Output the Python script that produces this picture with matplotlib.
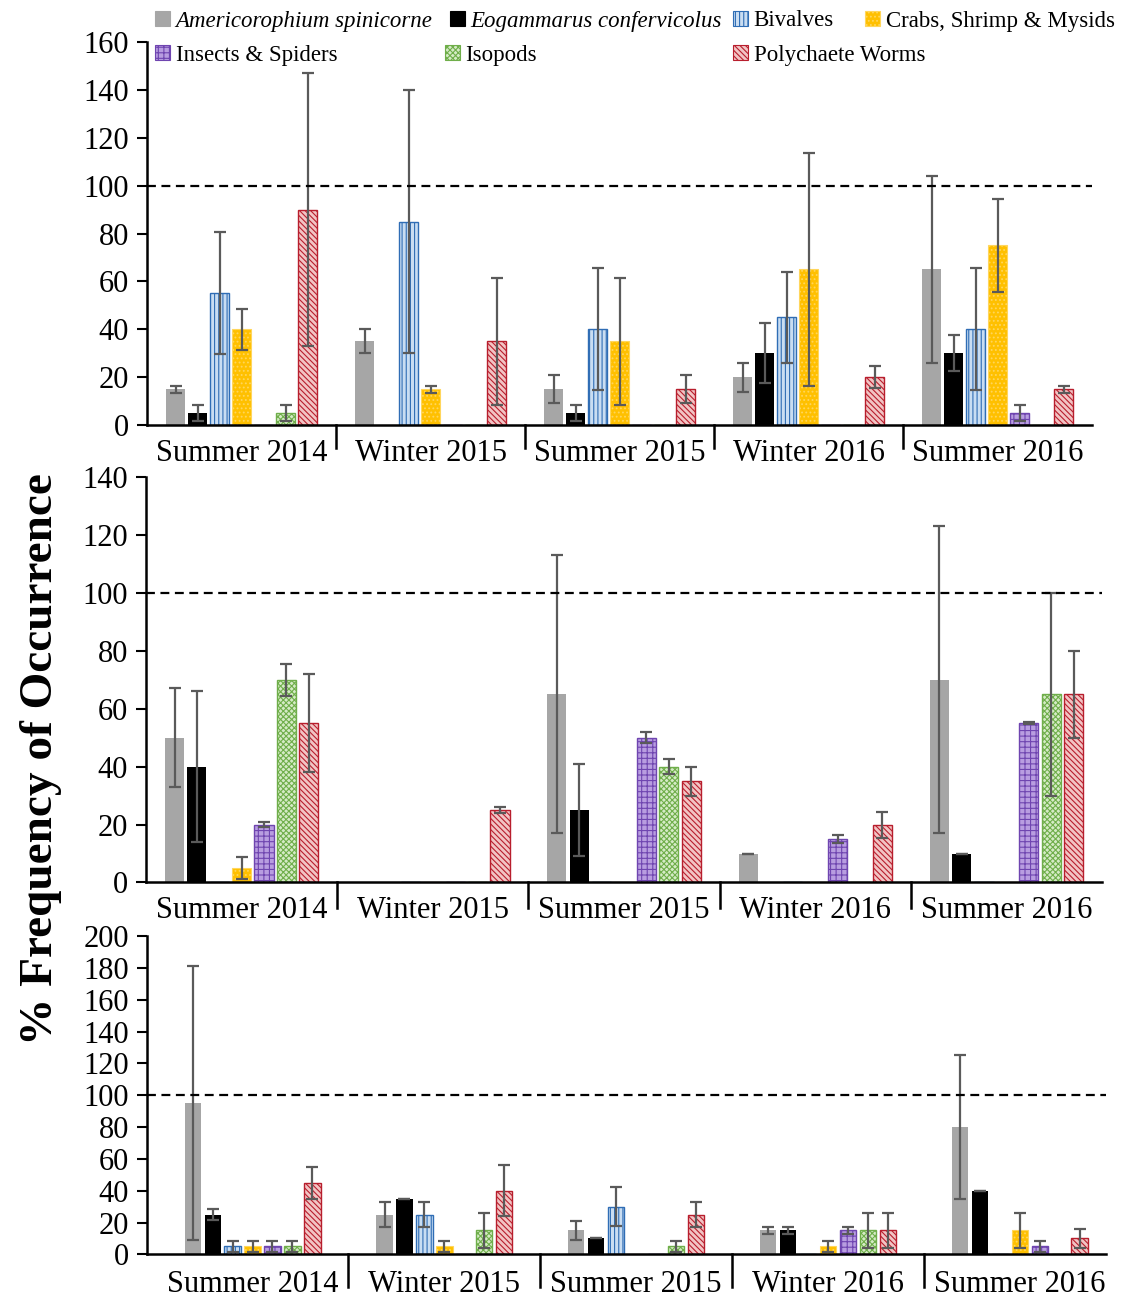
import matplotlib
matplotlib.use('Agg')
import matplotlib.pyplot as plt
import matplotlib.transforms as mtransforms
from matplotlib.patches import Patch
import numpy as np

plt.rcParams['font.family'] = ['Liberation Serif', 'DejaVu Serif']
plt.rcParams['hatch.linewidth'] = 0.8

# ---------------- data ----------------
seasons = ['Summer 2014', 'Winter 2015', 'Summer 2015', 'Winter 2016', 'Summer 2016']
species = ['Americorophium spinicorne', 'Eogammarus confervicolus', 'Bivalves',
           'Crabs, Shrimp & Mysids', 'Insects & Spiders', 'Isopods', 'Polychaete Worms']

# Panel 1 (top)
p1_amer = [15, 35, 15, 20, 65]
p1_eoga = [5, 0, 5, 30, 30]
p1_biva = [55, 85, 40, 45, 40]
p1_crab = [40, 15, 35, 65, 75]
p1_inse = [0, 0, 0, 0, 5]
p1_isop = [5, 0, 0, 0, 0]
p1_poly = [90, 35, 15, 20, 15]
p1_amer_err = [1.5, 5, 6, 6, 39]
p1_eoga_err = [3.5, 0, 3.5, 12.5, 7.5]
p1_biva_err = [25.5, 55, 25.5, 19, 25.5]
p1_crab_err = [8.5, 1.5, 26.5, 48.5, 19.5]
p1_inse_err = [0, 0, 0, 0, 3.3]
p1_isop_err = [3.5, 0, 0, 0, 0]
p1_poly_err = [57, 26.5, 6, 4.5, 1.5]

# Panel 2 (middle)
p2_amer = [50, 0, 65, 10, 70]
p2_eoga = [40, 0, 25, 0, 10]
p2_biva = [0, 0, 0, 0, 0]
p2_crab = [5, 0, 0, 0, 0]
p2_inse = [20, 0, 50, 15, 55]
p2_isop = [70, 0, 40, 0, 65]
p2_poly = [55, 25, 35, 20, 65]
p2_amer_err = [17, 0, 48, 0, 53]
p2_eoga_err = [26, 0, 16, 0, 0]
p2_biva_err = [0, 0, 0, 0, 0]
p2_crab_err = [3.7, 0, 0, 0, 0]
p2_inse_err = [1, 0, 2, 1.3, 0.3]
p2_isop_err = [5.5, 0, 2.7, 0, 35]
p2_poly_err = [17, 1, 5, 4.5, 15]

# Panel 3 (bottom)
p3_amer = [95, 25, 15, 15, 80]
p3_eoga = [25, 35, 10, 15, 40]
p3_biva = [5, 25, 30, 0, 0]
p3_crab = [5, 5, 0, 5, 15]
p3_inse = [5, 0, 0, 15, 5]
p3_isop = [5, 15, 5, 15, 0]
p3_poly = [45, 40, 25, 15, 10]
p3_amer_err = [86, 8, 6, 2, 45]
p3_eoga_err = [3.5, 0, 0, 2, 0]
p3_biva_err = [3.5, 8, 12, 0, 0]
p3_crab_err = [3.5, 3.5, 0, 3.5, 11]
p3_inse_err = [3.5, 0, 0, 2, 3.5]
p3_isop_err = [3.5, 11, 3.5, 11, 0]
p3_poly_err = [10, 16, 8, 11, 6]

panels = [
    dict(vals=[p1_amer, p1_eoga, p1_biva, p1_crab, p1_inse, p1_isop, p1_poly],
         errs=[p1_amer_err, p1_eoga_err, p1_biva_err, p1_crab_err, p1_inse_err, p1_isop_err, p1_poly_err],
         ymax=160, rect=[0.1306, 0.6723, 0.8393, 0.2953], pitch=0.1164, width=0.100,
         xlim=(-0.5, 4.5), sep_px=23, lpad=10),
    dict(vals=[p2_amer, p2_eoga, p2_biva, p2_crab, p2_inse, p2_isop, p2_poly],
         errs=[p2_amer_err, p2_eoga_err, p2_biva_err, p2_crab_err, p2_inse_err, p2_isop_err, p2_poly_err],
         ymax=140, rect=[0.1297, 0.3196, 0.849, 0.3126], pitch=0.117, width=0.100,
         xlim=(-0.5, 4.5), sep_px=26, lpad=10),
    dict(vals=[p3_amer, p3_eoga, p3_biva, p3_crab, p3_inse, p3_isop, p3_poly],
         errs=[p3_amer_err, p3_eoga_err, p3_biva_err, p3_crab_err, p3_inse_err, p3_isop_err, p3_poly_err],
         ymax=200, rect=[0.1306, 0.0329, 0.8517, 0.2454], pitch=0.104, width=0.085,
         xlim=(-0.55, 4.45), sep_px=33, lpad=11),
]

styles = [
    dict(facecolor='#A6A6A6', edgecolor='#A6A6A6', hatch=None, linewidth=0),
    dict(facecolor='#000000', edgecolor='#000000', hatch=None, linewidth=0),
    dict(facecolor='#C9DDF2', edgecolor='#2F6DB5', hatch='||||', linewidth=1.0),
    dict(facecolor='#FFC000', edgecolor='#FFD65C', hatch='....', linewidth=0.8),
    dict(facecolor='#B89DE0', edgecolor='#6F45B0', hatch='+++', linewidth=1.0),
    dict(facecolor='#D5EBC6', edgecolor='#6FAE4A', hatch='xxxxxx', linewidth=1.0),
    dict(facecolor='#F2C4C4', edgecolor='#B81E2D', hatch='\\\\\\\\\\\\', linewidth=1.0),
]

FIG_W, FIG_H = 1126, 1297
fig = plt.figure(figsize=(FIG_W / 100, FIG_H / 100), dpi=100)

x = np.arange(len(seasons))
for p in panels:
    ax = fig.add_axes(p['rect'])
    nser = len(p['vals'])
    for j, (vals, errs, st) in enumerate(zip(p['vals'], p['errs'], styles)):
        xs = x + (j - (nser - 1) / 2) * p['pitch']
        ax.bar(xs, vals, width=p['width'], zorder=2, **st)
        v = np.array(vals, dtype=float)
        e = np.array(errs, dtype=float)
        m = v > 0
        if m.any():
            ax.errorbar(xs[m], v[m], yerr=e[m], fmt='none', ecolor='#5A5A5A',
                        elinewidth=1.6, capsize=4.5, capthick=1.6, zorder=3)
    ax.axhline(100, color='black', linestyle=(0, (4, 2.5)), linewidth=1.6, zorder=4)
    ax.set_ylim(0, p['ymax'])
    ax.set_yticks(np.arange(0, p['ymax'] + 1, 20))
    ax.set_xlim(*p['xlim'])
    ax.set_xticks(x)
    ax.set_xticklabels(seasons)
    for s in ['top', 'right']:
        ax.spines[s].set_visible(False)
    for s in ['left', 'bottom']:
        ax.spines[s].set_linewidth(1.8)
    ax.tick_params(axis='y', direction='out', length=7, width=1.5, labelsize=22, pad=6)
    ax.tick_params(axis='x', length=0, labelsize=22, pad=p['lpad'])
    # category separators below the axis
    ax_h_px = p['rect'][3] * FIG_H
    frac = p['sep_px'] / ax_h_px
    trans = mtransforms.blended_transform_factory(ax.transData, ax.transAxes)
    for b in x[:-1] + 0.5:
        ax.plot([b, b], [0, -frac], transform=trans, color='black', linewidth=1.8,
                clip_on=False, zorder=5)

# Y label
fig.text(0.036, 0.415, '% Frequency of Occurrence', rotation=90, ha='center', va='center',
         fontsize=34, fontweight='bold')

# Legend entries placed individually (pixel positions of the reference layout)
leg_x = [155, 450, 733, 865, 155, 445, 733]
leg_y = [21, 21, 21, 21, 55, 55, 55]
for i, (name, st) in enumerate(zip(species, styles)):
    h = Patch(facecolor=st['facecolor'], edgecolor=st['edgecolor'] if st['hatch'] else st['facecolor'],
              hatch=st['hatch'], linewidth=0.8, label=name)
    style = 'italic' if i < 2 else 'normal'
    fig.legend(handles=[h], loc='center left',
               bbox_to_anchor=(leg_x[i] / FIG_W, 1 - leg_y[i] / FIG_H),
               frameon=False, borderpad=0, borderaxespad=0, handlelength=0.65,
               handleheight=0.65, handletextpad=0.25,
               prop=dict(family=['Liberation Serif', 'DejaVu Serif'], size=16.5, style=style))

fig.savefig('out.png', dpi=100)
